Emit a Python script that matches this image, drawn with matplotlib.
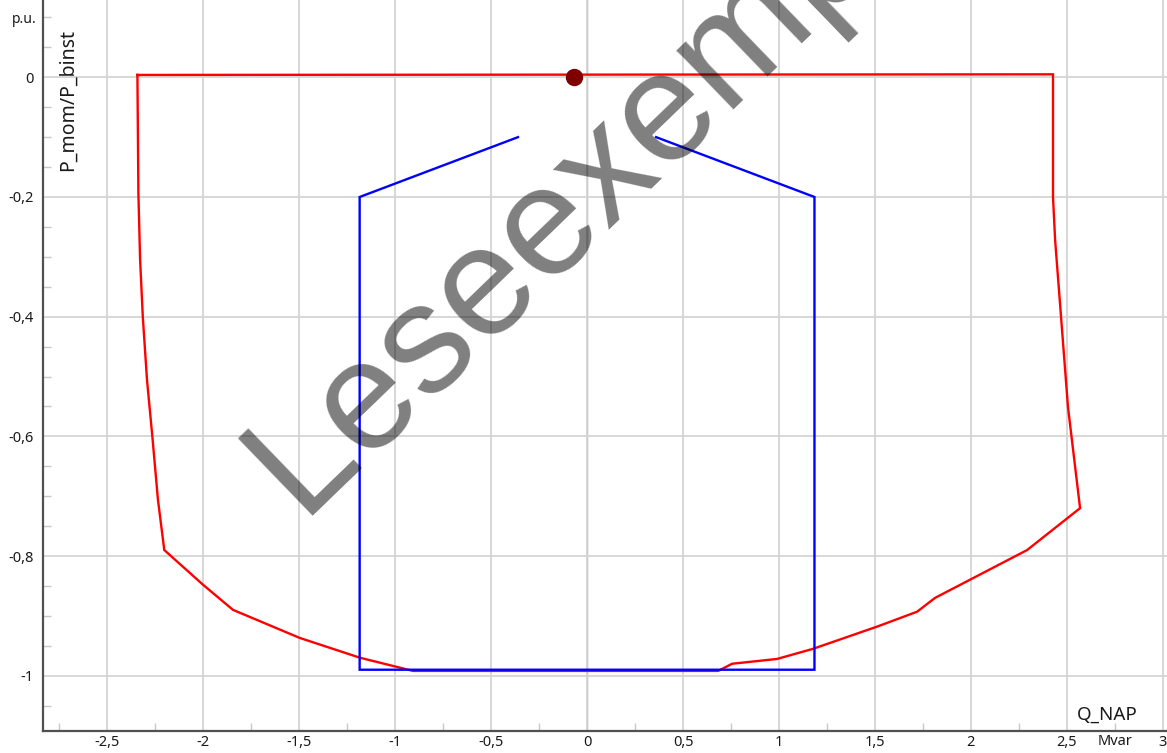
import matplotlib
matplotlib.use("Agg")
import matplotlib.pyplot as plt
from matplotlib.ticker import MultipleLocator, FuncFormatter

# ---- data ----
red_q = [-2.343, -2.338, -2.329, -2.315, -2.293, -2.265, -2.236, -2.203,
         -2.001, -1.845, -1.496, -1.183, -0.907,
         0.683, 0.756, 0.990, 1.178, 1.511, 1.720, 1.813, 2.293, 2.569,
         2.506, 2.470, 2.439, 2.428, 2.428, -2.343]
red_p = [0.004, -0.193, -0.305, -0.400, -0.506, -0.601, -0.706, -0.790,
         -0.848, -0.890, -0.937, -0.970, -0.992,
         -0.992, -0.980, -0.972, -0.955, -0.918, -0.893, -0.870, -0.790, -0.720,
         -0.551, -0.401, -0.272, -0.200, 0.005, 0.004]

blue_q = [-0.36, -1.185, -1.185, 1.185, 1.185, 0.36]
blue_p = [-0.10, -0.20, -0.99, -0.99, -0.20, -0.10]

point_q = [-0.07]
point_p = [0.0]

W, H = 1167, 753
fig = plt.figure(figsize=(W / 100, H / 100), dpi=100)
ax = fig.add_axes([43 / W, 1 - 731 / H, 1 - 43 / W, 731 / H])

ax.set_xlim(-2.835, 3.022)
ax.set_ylim(-1.0924, 0.1292)

ax.xaxis.set_major_locator(MultipleLocator(0.5))
ax.xaxis.set_minor_locator(MultipleLocator(0.25))
ax.yaxis.set_major_locator(MultipleLocator(0.2))
ax.yaxis.set_minor_locator(MultipleLocator(0.05))

def fmt(v, pos):
    if abs(v) < 1e-9:
        return "0"
    return ("%g" % round(v, 3)).replace(".", ",")

ax.xaxis.set_major_formatter(FuncFormatter(fmt))
ax.yaxis.set_major_formatter(FuncFormatter(fmt))

ax.grid(True, which="major", color="#d4d4d4", lw=1.3, zorder=0)
ax.set_axisbelow(True)
ax.axvline(0, color="#9a9a9a", lw=1.0, zorder=0.5)

for s in ["top", "right"]:
    ax.spines[s].set_visible(False)
for s in ["left", "bottom"]:
    ax.spines[s].set_color("#505050")
    ax.spines[s].set_linewidth(1.6)

ax.tick_params(which="major", length=0, labelsize=10.5, labelcolor="#1a1a1a")
ax.tick_params(axis="x", which="major", pad=3)
ax.tick_params(axis="y", which="major", pad=7)
ax.tick_params(which="minor", direction="in", length=6, color="#c8c8c8", width=1)

for lab in ax.get_xticklabels() + ax.get_yticklabels():
    lab.set_family("Noto Sans")

ax.plot(red_q, red_p, color="#ff0000", lw=1.7, zorder=3, solid_joinstyle="miter")
ax.plot(blue_q, blue_p, color="#0000ff", lw=1.7, zorder=3, solid_joinstyle="miter")
ax.plot(point_q, point_p, "o", color="#7f0000", markersize=11.5, zorder=4)

# texts
fig.text(68 / W, 1 - 29 / H, "P_mom/P_binst", rotation=90, ha="center", va="top",
         fontsize=14, family="Noto Sans", color="#1a1a1a")
fig.text(12 / W, 1 - 23 / H, "p.u.", ha="left", va="baseline",
         fontsize=10, family="Noto Sans", color="#1a1a1a")
fig.text(1107 / W, 1 - 720 / H, "Q_NAP", ha="center", va="baseline",
         fontsize=13.5, family="Noto Sans", color="#1a1a1a")
ax.text(2.75, -3 / 731, "Mvar", transform=ax.get_xaxis_transform(), ha="center",
        va="top", fontsize=10.5, family="Noto Sans", color="#1a1a1a")

# watermark
fig.text(300 / W, 1 - 516 / H, "Leseexemplar", rotation=44, rotation_mode="anchor",
         ha="left", va="baseline", fontsize=112, family="Liberation Sans",
         color="black", alpha=0.5, zorder=10)

fig.savefig("out.png", dpi=100)
